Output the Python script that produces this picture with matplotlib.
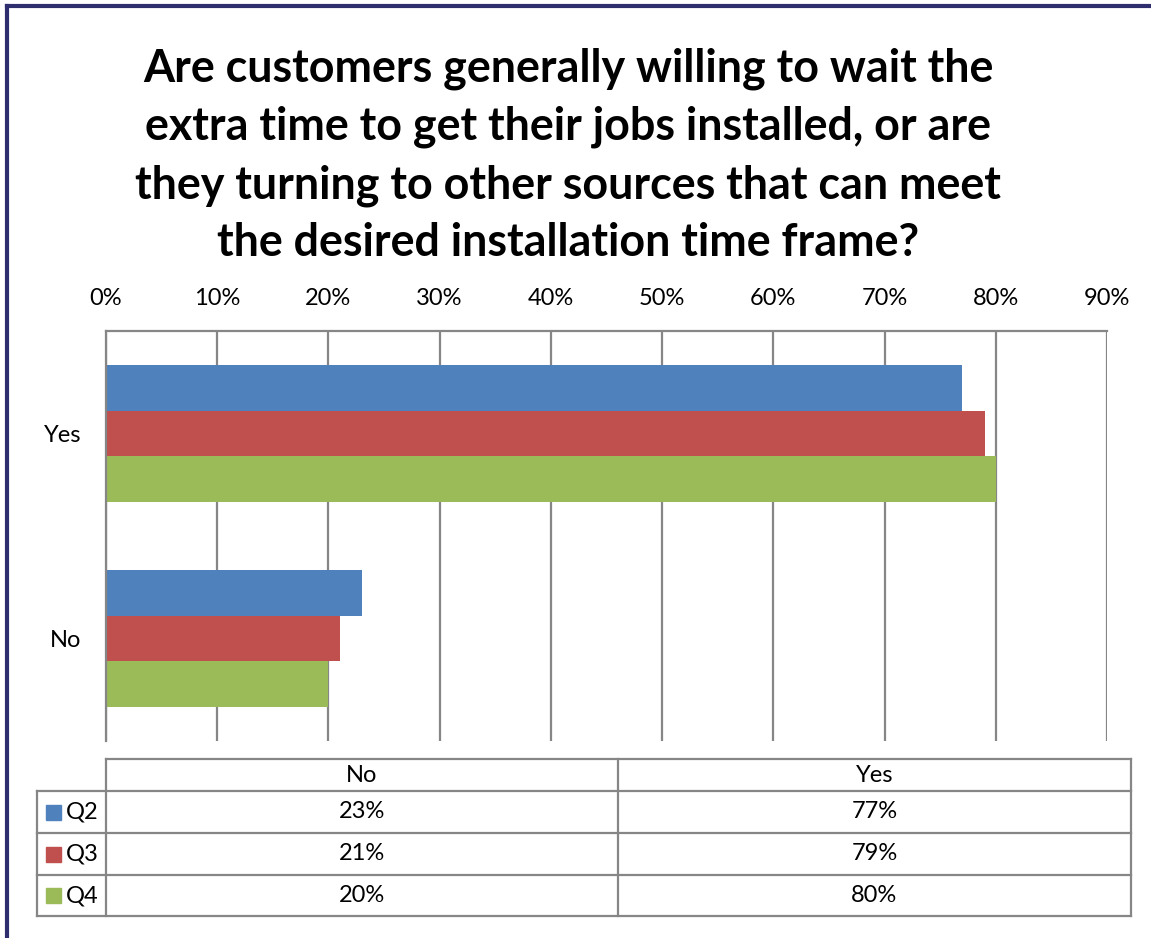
import numpy as np
import matplotlib.pyplot as plt
from matplotlib.patches import Rectangle
from matplotlib.lines import Line2D

plt.rcParams['font.family'] = ['Lato', 'DejaVu Sans']

title = ("Are customers generally willing to wait the\n"
         "extra time to get their jobs installed, or are\n"
         "they turning to other sources that can meet\n"
         "the desired installation time frame?")

categories = ["No", "Yes"]
series = ["Q2", "Q3", "Q4"]
q2 = [23, 77]
q3 = [21, 79]
q4 = [20, 80]
colors = ["#4F81BD", "#C0504D", "#9BBB59"]
grid_col = "#868686"
fs = 17

W, H = 1151, 938
fig = plt.figure(figsize=(W / 100, H / 100), dpi=100)

def fx(px):
    return px / W

def fy(py):
    return 1 - py / H

# outer frame (left and top edges)
fig.add_artist(Line2D([fx(7), fx(7)], [0, fy(6)], color="#2E2E6E", lw=3))
fig.add_artist(Line2D([fx(7), 1], [fy(6), fy(6)], color="#2E2E6E", lw=3))

fig.text(fx(568), fy(156), title, ha="center", va="center",
         fontsize=32.3, fontweight="bold", linespacing=1.46)

ax = fig.add_axes([fx(106), fy(741), fx(1107) - fx(106), fy(331) - fy(741)])
vals = [q2, q3, q4]
h = 0.222
y = np.arange(len(categories))
for i, (v, c) in enumerate(zip(vals, colors)):
    ax.barh(y + (1 - i) * h, v, height=h, color=c, zorder=2)

ax.set_xlim(0, 90)
ax.set_ylim(-0.5, 1.5)
ax.set_xticks(np.arange(0, 91, 10))
ax.set_xticklabels([f"{t}%" for t in range(0, 91, 10)])
ax.set_yticks(y)
ax.set_yticklabels(categories)
ax.xaxis.tick_top()
ax.tick_params(axis="both", length=0, labelsize=fs)
ax.tick_params(axis="x", pad=16)
ax.tick_params(axis="y", pad=18)
ax.grid(axis="x", color=grid_col, lw=1.6, zorder=1)
for s in ["bottom", "right"]:
    ax.spines[s].set_visible(False)
for s in ["top", "left"]:
    ax.spines[s].set_color(grid_col)
    ax.spines[s].set_linewidth(1.6)

# data table under the chart
tab = fig.add_axes([0, 0, 1, 1], facecolor="none")
tab.set_xlim(0, W)
tab.set_ylim(H, 0)
tab.axis("off")
x0, xm, x1, x2 = 37, 106, 618, 1131
rows = [759, 791, 833, 875, 916]
lk = dict(color=grid_col, lw=1.6)
tab.plot([xm, x2], [rows[0], rows[0]], **lk)
for r in rows[1:]:
    tab.plot([x0, x2], [r, r], **lk)
tab.plot([x0, x0], [rows[1], rows[-1]], **lk)
for xv in [xm, x1, x2]:
    tab.plot([xv, xv], [rows[0], rows[-1]], **lk)

cols = [(xm + x1) / 2, (x1 + x2) / 2]
for j, cat in enumerate(categories):
    tab.text(cols[j], (rows[0] + rows[1]) / 2, cat, ha="center", va="center", fontsize=fs)
for i, (name, v, c) in enumerate(zip(series, vals, colors)):
    yc = (rows[i + 1] + rows[i + 2]) / 2
    tab.add_patch(Rectangle((46, yc - 7), 15, 15, color=c))
    tab.text(66, yc, name, ha="left", va="center", fontsize=fs)
    for j in range(len(categories)):
        tab.text(cols[j], yc, f"{v[j]}%", ha="center", va="center", fontsize=fs)

fig.savefig("out.png", dpi=100)
